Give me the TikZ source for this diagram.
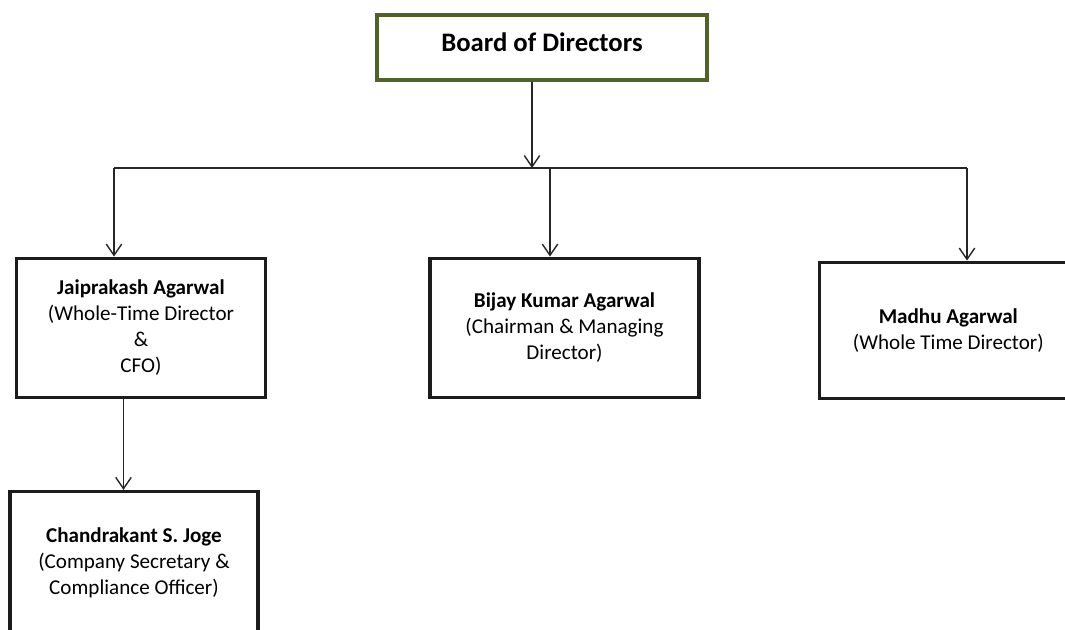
\documentclass[tikz,border=0pt]{standalone}
\usepackage{fontspec}
\setmainfont{Carlito}
\usetikzlibrary{arrows.meta,positioning}
\definecolor{olivegreen}{HTML}{4F6228}
\definecolor{boxline}{HTML}{1C1C1C}
\definecolor{linegray}{HTML}{262626}

\begin{document}
\begin{tikzpicture}[
        node distance=4.4cm,
        board/.style={rectangle, draw=olivegreen, line width=2.5pt, minimum width=8.25cm, minimum height=1.625cm, font=\fontsize{19}{23}\selectfont\bfseries, text height=15.6pt, text depth=10.4pt},
        person/.style={rectangle, draw=boxline, line width=2.5pt, align=center, font=\fontsize{15}{18.5}\selectfont},
        arrow/.style={-{Straight Barb[length=8pt,width=11pt]}, line width=1pt, draw=linegray},
        line/.style={line width=1pt, draw=linegray}
    ]
    \useasboundingbox (0,0) rectangle (26.625,-15.725);
    
    % Top
    \node[board] (board) at (13.55,-1.1875) {Board of Directors};
    
    % Directors
    \node[person, minimum width=6.225cm, minimum height=3.475cm, below left=4.37cm and 2.7cm of board] (jai) {\textbf{Jaiprakash Agarwal}\\(Whole-Time Director\\\&\\CFO)};
    \node[person, minimum width=6.725cm, minimum height=3.475cm, below=4.37cm of board, xshift=0.5625cm] (bijay) {\textbf{Bijay Kumar Agarwal}\\(Chairman \& Managing\\Director)};
    \node[person, minimum width=6.45cm, minimum height=3.4cm, below right=4.47cm and 2.72cm of board] (madhu) {\textbf{Madhu Agarwal}\\(Whole Time Director)};
    
    % Secretary
    \node[person, minimum width=6.2cm, minimum height=3.55cm, below=2.27cm of jai, xshift=-0.175cm] (cs) {\textbf{Chandrakant S. Joge}\\(Company Secretary \&\\Compliance Officer)};
    
    % Bus line
    \coordinate (busB) at (13.3,-4.2);
    \coordinate (busL) at (2.85,-4.2);
    \coordinate (busM) at (13.75,-4.2);
    \coordinate (busR) at (24.175,-4.2);
    \draw[arrow] (busB |- board.south) -- (busB);
    \draw[line] (busL) -- (busR);
    \draw[arrow] (busL) -- (busL |- jai.north);
    \draw[arrow] (busM) -- (busM |- bijay.north);
    \draw[arrow] (busR) -- (busR |- madhu.north);
    \draw[arrow] ([xshift=-0.4375cm]jai.south) -- ([xshift=-0.4375cm]jai.south |- cs.north);
    
\end{tikzpicture}
\end{document}
